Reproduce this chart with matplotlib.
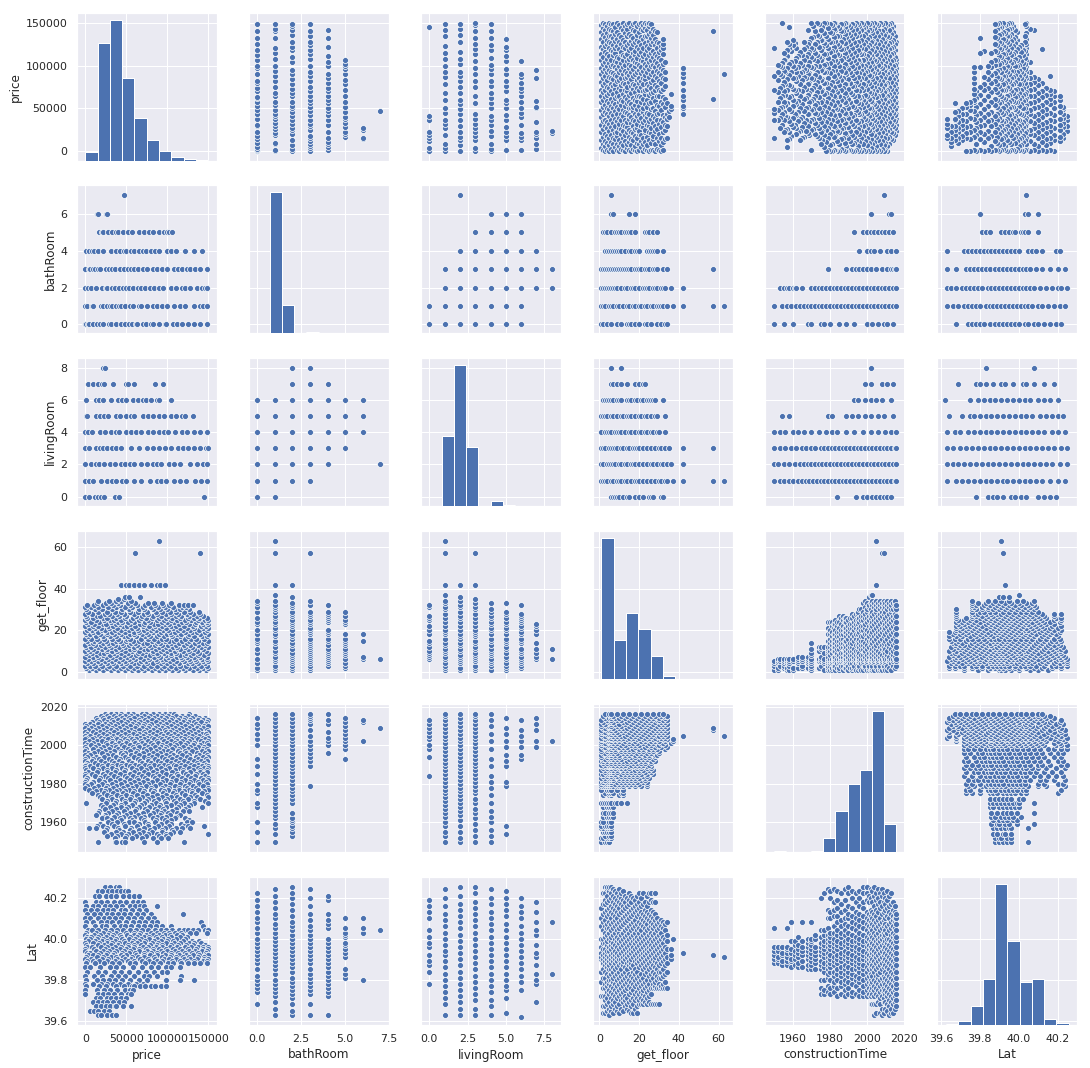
import matplotlib
matplotlib.use("Agg")
import matplotlib.pyplot as plt
import seaborn as sns

# histogram counts
price_edges = [0, 15, 30, 45, 60, 75, 90, 105, 120, 135, 150]
price_counts = [6400, 87000, 103700, 61000, 31400, 15800, 7400, 3000, 1500, 750]
bath_edges = [0, 0.7, 1.4, 2.1, 2.8, 3.5, 4.2, 4.9, 5.6, 6.3, 7]
bath_counts = [300, 250800, 49200, 0, 1800, 0, 0, 0, 0, 0]
living_edges = [0, 0.8, 1.6, 2.4, 3.2, 4, 4.8, 5.6, 6.4, 7.2, 8]
living_counts = [100, 124800, 252600, 105000, 100, 9600, 1800, 200, 0, 0]
floor_edges = [1, 7.2, 13.4, 19.6, 25.8, 32, 38.2, 44.4, 50.6, 56.8, 63]
floor_counts = [252600, 69000, 118800, 90000, 42000, 6000, 200, 0, 0, 10]
time_edges = [1950, 1956.6, 1963.2, 1969.8, 1976.4, 1983, 1989.6, 1996.2, 2002.8, 2009.4, 2016]
time_counts = [1200, 600, 600, 2400, 25800, 72600, 121200, 146400, 252600, 51000]
lat_edges = [39.627, 39.690, 39.753, 39.816, 39.879, 39.942, 40.005, 40.068, 40.131, 40.194, 40.257]
lat_counts = [1800, 7800, 33000, 81600, 250800, 150000, 76200, 81600, 11400, 4200]

# level -> prices (thousands)
price_by_bath = {
    0: [0, 1, 3, 5, 10, 14, 18, 22, 29, 31, 38, 44, 48, 53, 57, 62, 63, 70, 74, 80, 82, 90, 97, 99, 107, 112, 118, 125, 132, 140, 148],
    1: [0, 2, 8, 10, 19, 21, 26, 30, 33, 38, 41, 44, 48, 54, 58, 65, 68, 75, 82, 88, 94, 100, 108, 115, 121, 132, 140, 143, 149],
    2: [0, 3, 7, 13, 20, 25, 27, 32, 36, 41, 46, 50, 53, 58, 64, 68, 73, 79, 84, 90, 95, 104, 110, 118, 122, 128, 136, 142, 146, 149],
    3: [0, 4, 6, 9, 12, 16, 18, 25, 29, 32, 36, 42, 47, 52, 56, 60, 64, 70, 75, 82, 88, 93, 100, 108, 113, 118, 124, 128, 134, 140, 149],
    4: [1, 5, 8, 11, 16, 22, 31, 37, 42, 47, 50, 56, 60, 65, 70, 74, 80, 85, 90, 100, 104, 111, 122, 132, 142],
    5: [17, 20, 22, 28, 33, 38, 40, 46, 52, 57, 65, 72, 78, 83, 90, 96, 100, 102, 106],
    6: [14, 16, 25, 27],
    7: [47.5],
}
price_by_living = {
    0: [0, 4, 12, 15, 19, 23, 36, 41, 145],
    1: [0, 4, 9, 19, 27, 32, 37, 45, 50, 60, 68, 79, 87, 92, 99, 108, 115, 123, 134, 141, 149],
    2: [0, 7, 13, 17, 23, 30, 36, 43, 49, 55, 60, 68, 75, 82, 88, 92, 102, 108, 116, 128, 136, 143, 149],
    3: [0, 4, 13, 18, 22, 27, 32, 38, 43, 56, 65, 75, 82, 90, 97, 105, 113, 119, 125, 132, 140, 147, 150],
    4: [0, 3, 8, 18, 24, 31, 37, 41, 50, 56, 62, 68, 76, 82, 90, 96, 101, 109, 118, 124, 132, 140, 148],
    5: [1, 2, 13, 18, 23, 28, 37, 42, 50, 56, 60, 70, 76, 82, 90, 96, 105, 111, 118, 122, 131],
    6: [1, 13, 17, 21, 31, 40, 45, 50, 58, 64, 70, 74, 80, 87, 90, 105],
    7: [3, 9, 15, 20, 23, 34, 50, 52, 59, 85, 95],
    8: [21, 24],
}
living_by_bath = {
    0: [0, 1, 2, 3, 4, 5, 6],
    1: [0, 1, 2, 3, 4, 5, 6],
    2: [1, 2, 3, 4, 5, 6, 7, 8],
    3: [1, 2, 3, 4, 5, 6, 7, 8],
    4: [2, 3, 4, 5, 6, 7],
    5: [3, 4, 5, 6],
    6: [4, 5, 6],
    7: [2],
}
floor_by_bath = {
    0: [1, 2, 4, 6, 9, 11, 14, 15, 16, 18, 20, 23, 24, 26, 29, 31, 33, 34],
    1: [1, 2, 3, 5, 6, 7, 9, 10, 12, 14, 15, 17, 18, 20, 21, 23, 24, 26, 27, 29, 30, 31, 32, 34, 37, 42, 57, 63],
    2: [1, 2, 3, 4, 5, 6, 7, 8, 9, 11, 13, 14, 16, 17, 18, 20, 22, 23, 24, 25, 27, 28, 29, 31, 32, 33, 36, 42],
    3: [1, 2, 3, 4, 5, 6, 7, 8, 9, 10, 11, 12, 13, 14, 15, 16, 18, 19, 20, 21, 23, 24, 25, 27, 28, 29, 32, 34, 57],
    4: [3, 4, 5, 6, 7, 8, 9, 10, 11, 13, 15, 16, 18, 19, 20, 24, 25, 26, 27, 28, 29, 32],
    5: [2, 3, 4, 6, 8, 9, 10, 11, 13, 14, 15, 16, 18, 23, 24, 25, 27, 29],
    6: [6, 7, 15, 18],
    7: [6],
}
floor_by_living = {
    0: [6, 7, 8, 9, 10, 12, 14, 15, 18, 20, 22, 25, 26, 27, 31, 32],
    1: [1, 2, 3, 4, 6, 7, 9, 10, 11, 13, 14, 16, 18, 19, 20, 22, 24, 26, 28, 30, 31, 33, 34, 37, 42, 57, 63],
    2: [1, 2, 4, 5, 6, 7, 8, 10, 11, 13, 14, 16, 17, 18, 20, 22, 24, 26, 27, 29, 31, 32, 34, 36, 42],
    3: [1, 2, 3, 5, 6, 7, 8, 9, 11, 12, 14, 15, 17, 18, 19, 20, 22, 24, 26, 28, 30, 31, 33, 35, 42, 57],
    4: [1, 3, 4, 5, 6, 8, 9, 10, 11, 13, 15, 16, 18, 20, 21, 23, 24, 26, 27, 29, 30, 33],
    5: [1, 2, 3, 4, 6, 7, 9, 11, 12, 14, 15, 16, 18, 20, 21, 23, 24, 26, 28, 29, 33],
    6: [2, 3, 4, 5, 6, 7, 9, 10, 11, 14, 15, 16, 18, 19, 21, 22, 24, 25, 26, 27, 28, 32],
    7: [6, 7, 9, 11, 14, 18, 20, 22, 23],
    8: [6, 11],
}
time_by_bath = {
    0: [1950, 1955, 1960, 1968, 1970, 1975, 1977, 1980, 1985, 1989, 1993, 2000, 2003, 2006, 2009, 2011, 2014],
    1: [1950, 1954, 1957, 1959, 1962, 1964, 1966, 1968, 1970, 1972, 1974, 1976, 1978, 1980, 1982, 1984, 1986, 1988, 1990, 1992, 1994, 1996, 1998, 2000, 2002, 2004, 2006, 2008, 2010, 2012, 2014, 2016],
    2: [1953, 1955, 1957, 1958, 1960, 1961, 1962, 1965, 1970, 1972, 1974, 1976, 1978, 1980, 1982, 1984, 1986, 1988, 1990, 1992, 1994, 1996, 1998, 2000, 2002, 2004, 2006, 2008, 2010, 2012, 2014, 2016],
    3: [1979, 1989, 1992, 1994, 1996, 1998, 2000, 2002, 2005, 2008, 2011, 2013, 2014, 2015, 2016],
    4: [1996, 2000, 2002, 2004, 2007, 2011, 2013, 2016],
    5: [1993, 1998, 2000, 2002, 2004, 2006, 2008, 2010, 2012, 2014],
    6: [2002, 2012, 2013],
    7: [2009],
}
time_by_living = {
    0: [1984, 1994, 1998, 2000, 2003, 2005, 2007, 2009, 2011, 2013],
    1: [1950, 1953, 1955, 1958, 1960, 1963, 1965, 1967, 1969, 1971, 1973, 1975, 1977, 1979, 1981, 1983, 1985, 1987, 1989, 1991, 1993, 1995, 1997, 1999, 2001, 2003, 2005, 2007, 2009, 2011, 2013, 2015, 2016],
    2: [1950, 1952, 1955, 1958, 1961, 1964, 1966, 1968, 1970, 1972, 1974, 1976, 1978, 1980, 1982, 1984, 1986, 1988, 1990, 1992, 1994, 1996, 1998, 2000, 2002, 2004, 2006, 2008, 2010, 2012, 2014, 2016],
    3: [1950, 1953, 1956, 1959, 1962, 1965, 1967, 1970, 1972, 1975, 1977, 1979, 1981, 1983, 1985, 1987, 1989, 1991, 1993, 1995, 1997, 1999, 2001, 2003, 2005, 2007, 2009, 2011, 2013, 2015, 2016],
    4: [1950, 1953, 1956, 1960, 1963, 1966, 1970, 1974, 1978, 1981, 1984, 1989, 1993, 1998, 2002, 2006, 2010, 2013, 2016],
    5: [1954, 1958, 1979, 1981, 1989, 1992, 1995, 1999, 2002, 2006, 2009, 2014],
    6: [1993, 1995, 1999, 2002, 2005, 2008, 2013],
    7: [1999, 2002, 2008, 2011, 2014],
    8: [2002],
}
# latitudes written as hundredths above 39, so 125 means 40.25
lat_by_bath = {
    0: [68, 74, 76, 78, 80, 82, 85, 88, 90, 92, 94, 96, 98, 100, 103, 105, 108, 110, 113, 116, 119, 122],
    1: [63, 66, 69, 72, 74, 76, 78, 80, 83, 85, 87, 89, 91, 93, 95, 97, 99, 101, 103, 105, 107, 110, 112, 115, 118, 121, 124],
    2: [63, 65, 68, 71, 73, 75, 77, 79, 81, 84, 86, 88, 90, 92, 94, 96, 98, 100, 102, 104, 106, 108, 111, 114, 117, 120, 122, 125],
    3: [63, 68, 73, 75, 77, 79, 81, 83, 85, 88, 90, 92, 94, 96, 98, 100, 102, 104, 106, 109, 112, 116, 120, 124],
    4: [63, 72, 74, 76, 78, 80, 82, 84, 86, 88, 90, 92, 94, 96, 98, 100, 105, 107, 109, 112, 119, 121],
    5: [81, 83, 85, 91, 93, 95, 97, 98, 101, 102, 103, 105, 110],
    6: [80, 103, 105, 110],
    7: [104],
}
lat_by_living = {
    0: [78, 84, 87, 89, 92, 96, 98, 101, 104, 110, 113, 116, 119],
    1: [63, 68, 71, 74, 77, 80, 83, 86, 89, 92, 94, 97, 100, 103, 106, 109, 112, 116, 120, 124],
    2: [63, 66, 69, 72, 75, 78, 81, 84, 87, 90, 93, 96, 99, 102, 105, 108, 111, 114, 117, 121, 125],
    3: [63, 66, 70, 73, 76, 79, 82, 85, 88, 91, 94, 97, 100, 103, 106, 109, 112, 115, 118, 122, 125],
    4: [63, 67, 70, 74, 77, 80, 83, 86, 89, 92, 95, 98, 101, 104, 107, 110, 113, 117, 120, 124],
    5: [64, 71, 75, 77, 80, 83, 86, 89, 92, 95, 98, 101, 104, 107, 111, 114, 117, 120, 123],
    6: [62, 75, 79, 82, 85, 88, 91, 94, 97, 100, 103, 106, 110, 113, 116, 120],
    7: [69, 78, 80, 83, 87, 91, 93, 97, 102, 104, 108, 113, 118],
    8: [83, 108],
}
price_by_floor = {
    1: [4, 13, 22, 31, 40, 48, 57, 64, 72, 81, 90, 97, 106, 113, 122, 131, 139, 147],
    2: [1, 8, 17, 26, 35, 44, 52, 60, 69, 77, 85, 94, 102, 110, 119, 127, 136, 144, 150],
    3: [0, 6, 12, 20, 29, 37, 46, 54, 63, 71, 80, 88, 96, 104, 116, 123, 133, 141, 149],
    4: [2, 10, 18, 27, 34, 43, 50, 59, 66, 75, 83, 92, 100, 108, 114, 125, 130, 138, 146],
    5: [0, 7, 15, 24, 32, 41, 49, 56, 68, 74, 87, 95, 103, 111, 120, 128, 135, 143, 150],
    6: [3, 11, 19, 28, 36, 45, 53, 61, 70, 78, 86, 93, 99, 107, 118, 126, 134, 142, 148],
    7: [0, 9, 16, 25, 33, 42, 51, 58, 67, 76, 84, 91, 101, 112, 117, 124, 132, 140, 149],
    8: [5, 14, 21, 30, 38, 47, 55, 62, 73, 79, 89, 98, 105, 115, 121, 129, 137, 145],
    9: [1, 8, 18, 23, 35, 44, 52, 64, 69, 82, 88, 96, 104, 110, 123, 131, 139, 150],
    10: [0, 6, 13, 27, 32, 39, 49, 57, 65, 74, 83, 92, 100, 109, 119, 127, 136, 147],
    11: [3, 10, 20, 26, 37, 43, 54, 60, 71, 77, 86, 95, 103, 113, 116, 125, 133, 144],
    12: [1, 7, 16, 24, 31, 41, 48, 59, 67, 80, 90, 98, 107, 112, 122, 130, 141, 150],
    13: [0, 12, 19, 29, 36, 46, 53, 63, 72, 78, 85, 94, 101, 111, 120, 128, 138, 146],
    14: [4, 9, 22, 28, 34, 45, 56, 61, 70, 75, 87, 91, 105, 114, 124, 134, 143, 149],
    15: [2, 11, 17, 25, 38, 42, 50, 58, 66, 81, 89, 97, 102, 108, 118, 126, 137, 150],
    16: [0, 7, 14, 23, 33, 40, 51, 55, 68, 76, 84, 93, 99, 110, 121, 129, 135, 145],
    17: [3, 13, 21, 30, 37, 47, 52, 62, 73, 79, 88, 96, 106, 115, 125, 132, 142, 148],
    18: [1, 6, 18, 26, 35, 44, 54, 60, 69, 77, 90, 100, 104, 112, 117, 127, 140, 150],
    19: [0, 10, 15, 27, 32, 41, 49, 59, 65, 74, 83, 92, 103, 109, 122, 130, 136, 146],
    20: [2, 8, 20, 24, 36, 43, 53, 64, 71, 80, 86, 95, 101, 113, 119, 128, 139, 149],
    21: [5, 12, 19, 29, 39, 48, 57, 63, 75, 82, 91, 98, 107, 116, 124, 133, 143, 150],
    22: [0, 9, 16, 28, 34, 46, 51, 61, 70, 78, 85, 94, 105, 111, 120, 131, 141, 147],
    23: [3, 11, 22, 25, 37, 42, 55, 67, 72, 84, 89, 97, 102, 114, 126, 134, 144, 150],
    24: [1, 7, 17, 31, 40, 45, 52, 60, 73, 79, 93, 100, 108, 118, 123, 135, 142, 149],
    25: [0, 13, 23, 30, 35, 44, 56, 66, 76, 87, 96, 104, 112, 121, 129, 137, 146, 150],
    26: [2, 10, 21, 27, 38, 49, 58, 68, 74, 81, 90, 99, 106, 115, 125, 132, 139, 148],
    27: [1, 14, 18, 33, 41, 50, 62, 69, 83, 92, 101, 110, 117, 127, 136, 143],
    28: [0, 8, 24, 29, 39, 47, 59, 71, 77, 88, 98, 105, 113, 124, 131, 140],
    29: [3, 15, 26, 36, 43, 54, 64, 75, 86, 94, 103, 111, 120, 128, 139],
    30: [1, 12, 20, 32, 45, 53, 65, 72, 82, 91, 100, 109, 116, 126],
    31: [0, 7, 16, 28, 37, 48, 57, 70, 80, 89, 97, 107, 118, 123],
    32: [2, 11, 22, 34, 42, 55, 63, 73, 85, 95, 102, 114, 120, 125, 131],
    33: [14, 25, 31, 40, 52, 61, 76, 84, 93, 104],
    34: [15, 29, 38, 44, 56],
    35: [40, 47],
    36: [49, 53, 67],
    42: [43, 50, 53, 60, 65, 72, 80, 87, 91, 97],
    57: [61, 140],
    63: [90],
}
price_by_year = {
    2016: [24, 31, 38, 44, 52, 58, 69, 74, 83, 90, 97, 103, 108, 127],
    2015: [19, 27, 35, 42, 49, 56, 63, 71, 79, 87, 94, 101, 110, 118, 125, 134],
    2014: [13, 21, 29, 37, 45, 53, 60, 68, 76, 84, 92, 99, 106, 115, 122, 130, 139, 146],
    2013: [14, 23, 32, 40, 47, 55, 65, 73, 81, 89, 96, 105, 113, 120, 128, 137, 144, 150],
    2012: [8, 17, 26, 34, 43, 51, 59, 67, 75, 86, 93, 102, 111, 119, 126, 133, 141, 149],
    2011: [0, 6, 15, 24, 30, 39, 48, 57, 64, 72, 80, 91, 98, 107, 116, 124, 135, 147],
    2010: [1, 10, 20, 28, 36, 46, 54, 62, 70, 78, 88, 95, 104, 112, 121, 129, 138, 145, 150],
    2009: [0, 7, 16, 25, 33, 41, 50, 61, 69, 77, 85, 94, 100, 109, 117, 127, 136, 143],
    2008: [3, 12, 22, 31, 38, 47, 56, 66, 74, 82, 90, 97, 106, 114, 123, 131, 140, 148],
    2007: [0, 9, 18, 27, 35, 44, 52, 60, 71, 79, 87, 99, 103, 111, 119, 128, 137, 150],
    2006: [2, 13, 21, 29, 40, 49, 58, 65, 73, 83, 92, 101, 108, 116, 125, 134, 142, 147],
    2005: [0, 6, 17, 26, 34, 43, 53, 63, 70, 78, 86, 95, 105, 113, 121, 130, 139, 149],
    2004: [1, 11, 19, 30, 37, 46, 55, 67, 75, 81, 91, 98, 107, 117, 126, 135, 144, 150],
    2003: [0, 8, 23, 28, 39, 48, 57, 62, 72, 84, 93, 102, 110, 120, 129, 138, 146],
    2002: [4, 14, 20, 32, 42, 51, 59, 68, 76, 88, 96, 104, 112, 118, 127, 141, 150],
    2001: [0, 10, 25, 33, 41, 50, 61, 69, 80, 89, 100, 109, 115, 124, 133, 143, 148],
    2000: [2, 7, 16, 27, 36, 45, 54, 64, 73, 82, 94, 103, 111, 122, 131, 140, 150],
    1999: [0, 12, 22, 31, 38, 47, 58, 66, 77, 85, 92, 99, 108, 119, 128, 137, 145],
    1998: [1, 9, 18, 29, 40, 52, 60, 71, 79, 90, 97, 106, 114, 125, 134, 144, 149],
    1997: [0, 15, 24, 35, 44, 55, 63, 74, 86, 95, 101, 113, 121, 130, 142, 150],
    1996: [3, 11, 20, 30, 43, 49, 62, 70, 83, 91, 105, 116, 123, 136, 146],
    1995: [0, 6, 26, 34, 46, 56, 65, 78, 87, 98, 107, 118, 127, 139, 148],
    1994: [2, 13, 23, 37, 48, 59, 72, 81, 93, 103, 112, 124, 135, 143, 150],
    1993: [0, 10, 17, 29, 42, 52, 64, 76, 85, 97, 106, 116, 128, 137, 147],
    1992: [0, 8, 19, 32, 41, 53, 67, 76, 89, 100, 110, 120, 132, 141, 149],
    1991: [2, 12, 24, 35, 45, 57, 69, 80, 92, 104, 114, 125, 136, 145],
    1990: [1, 16, 28, 39, 50, 61, 73, 84, 96, 108, 117, 129, 138, 147],
    1989: [0, 6, 20, 33, 44, 55, 66, 78, 90, 101, 111, 122, 133, 142, 150],
    1988: [0, 10, 21, 33, 45, 57, 68, 79, 92, 102, 115, 126, 137, 145, 150],
    1987: [1, 15, 27, 38, 49, 62, 74, 86, 97, 109, 119, 131, 140, 149],
    1986: [3, 14, 26, 36, 47, 60, 71, 83, 94, 106, 119, 128, 140, 148],
    1985: [0, 8, 22, 31, 42, 54, 65, 77, 88, 99, 112, 123, 135, 144],
    1984: [0, 12, 24, 35, 49, 58, 69, 82, 90, 104, 113, 125, 134, 146],
    1983: [2, 18, 28, 40, 51, 63, 73, 85, 95, 107, 118, 129, 141, 150],
    1982: [1, 17, 30, 42, 54, 64, 75, 88, 99, 111, 122, 133, 143, 150],
    1981: [0, 9, 23, 36, 47, 59, 70, 81, 94, 105, 117, 128, 138, 147],
    1980: [0, 7, 20, 32, 44, 55, 66, 77, 91, 103, 116, 127, 139, 149],
    1979: [2, 15, 27, 38, 51, 62, 74, 85, 97, 109, 121, 131, 144],
    1978: [0, 11, 25, 34, 46, 57, 68, 80, 93, 102, 114, 124, 135, 150],
    1977: [5, 19, 29, 41, 53, 67, 80, 92, 101, 114, 126, 138, 150],
    1976: [13, 24, 37, 48, 60, 72, 84, 96, 108, 120, 130, 145],
    1975: [8, 23, 34, 46, 58, 70, 83, 95, 107, 118, 130, 142],
    1974: [15, 27, 39, 50, 63, 75, 87, 99, 110, 122, 134, 148],
    1973: [18, 31, 43, 56, 69, 81, 93, 105, 112, 128, 136, 150],
    1972: [20, 33, 45, 54, 65, 77, 89, 100, 115, 125, 140],
    1971: [26, 38, 49, 61, 74, 84, 97, 108, 119, 133, 146],
    1970: [1, 25, 36, 48, 59, 72, 86, 98, 110, 120, 132, 150],
    1969: [19, 34, 43, 57, 68, 80, 91, 104, 116, 128],
    1968: [21, 30, 44, 52, 66, 78, 90, 99, 113, 125, 142],
    1967: [24, 37, 50, 62, 73, 85, 95, 110, 122],
    1966: [17, 33, 47, 61, 75, 87, 96, 106, 119, 127],
    1965: [15, 28, 40, 55, 70, 83, 92, 101, 112],
    1964: [13, 24, 38, 50, 64, 79, 91, 103, 116],
    1963: [22, 35, 46, 59, 71, 88, 98, 111],
    1962: [20, 27, 42, 55, 68, 82, 93, 109, 121],
    1961: [31, 44, 57, 72, 86, 97, 105, 126],
    1960: [28, 39, 53, 60, 73, 85, 100, 124, 130],
    1959: [18, 32, 47, 65, 76, 92, 104, 117],
    1958: [14, 22, 35, 49, 63, 77, 89, 102, 120, 125, 145],
    1957: [5, 13, 26, 40, 56, 71, 84, 97, 111, 118, 128],
    1956: [25, 41, 54, 66, 79, 93, 106],
    1955: [23, 37, 46, 58, 70, 81, 94, 107, 115],
    1954: [31, 44, 52, 65, 76, 88, 98, 103, 150],
    1953: [27, 39, 50, 62, 74, 90, 99],
    1952: [36, 48, 57, 69, 83, 92, 101],
    1950: [16, 36, 37, 45, 49, 72, 88, 120],
}
price_by_lat = {
    125: [24, 30, 37, 41],
    123: [15, 20, 28, 33, 39, 44, 49, 52],
    121: [12, 17, 25, 31, 38, 46, 53, 60, 65],
    118: [0, 13, 19, 27, 35, 42, 50, 58, 64, 70],
    116: [1, 10, 16, 24, 30, 37, 45, 55, 61, 67, 72, 88],
    114: [0, 7, 14, 21, 28, 34, 43, 49, 57, 66, 74],
    112: [2, 11, 18, 26, 32, 40, 47, 54, 63, 70, 80, 119],
    110: [0, 6, 15, 23, 29, 36, 44, 52, 60, 68, 77, 84],
    108: [1, 9, 19, 27, 33, 41, 50, 58, 65, 73, 81, 87, 141],
    106: [0, 12, 20, 25, 35, 43, 48, 56, 64, 71, 79, 86, 93, 104, 143],
    104: [3, 8, 16, 24, 31, 39, 46, 54, 62, 69, 76, 85, 92, 98, 106, 114, 120, 125, 131, 138, 146, 150],
    103: [1, 13, 21, 29, 37, 50, 60, 67, 80, 88, 96, 102, 109, 117, 128, 135, 148],
    102: [0, 11, 18, 28, 34, 42, 51, 59, 66, 74, 83, 90, 97, 103, 112, 118],
    101: [2, 7, 16, 25, 32, 44, 55, 63, 71, 78, 86, 93, 105, 116, 124],
    100: [1, 6, 14, 22, 30, 37, 45, 53, 61, 68, 78, 88, 95, 101, 110, 122],
    99: [3, 12, 20, 27, 36, 47, 58, 65, 73, 84, 92, 100, 107, 119, 130, 139],
    98: [0, 10, 17, 26, 33, 41, 49, 57, 63, 72, 81, 89, 99, 108, 116, 126, 133, 141],
    97: [1, 15, 23, 31, 40, 52, 59, 68, 79, 87, 94, 104, 113, 123, 131, 146],
    96: [2, 8, 19, 27, 36, 44, 52, 60, 70, 77, 86, 94, 103, 112, 121, 129, 137, 144, 150],
    95: [0, 11, 24, 33, 42, 50, 58, 66, 74, 82, 90, 98, 107, 116, 125, 135, 143, 150],
    94: [0, 13, 21, 29, 38, 47, 55, 65, 75, 83, 92, 100, 109, 118, 127, 134, 142, 149],
    93: [2, 6, 18, 26, 35, 45, 53, 61, 71, 80, 88, 95, 104, 113, 122, 130, 138, 147],
    92: [3, 9, 16, 25, 34, 43, 50, 62, 71, 79, 88, 97, 105, 114, 123, 131, 139, 147, 150],
    91: [1, 14, 22, 31, 37, 46, 57, 64, 72, 84, 93, 103, 110, 119, 126, 137, 145],
    90: [0, 7, 20, 28, 39, 48, 56, 67, 76, 85, 96, 102, 111, 120, 128, 136, 145, 150],
    89: [2, 10, 17, 26, 36, 44, 52, 60, 69, 78, 87, 94, 106, 116, 124, 132, 143, 149],
    88: [1, 12, 23, 32, 41, 54, 61, 73, 82, 91, 101, 107, 117, 125, 133, 140, 148],
    86: [0, 6, 18, 30, 37, 46, 58, 69, 80, 89, 98, 104, 115],
    84: [2, 15, 24, 35, 44, 53, 64, 74, 84, 93, 100],
    82: [0, 11, 20, 31, 40, 49, 60, 71, 78, 87, 117],
    80: [1, 14, 22, 29, 36, 45, 55, 66, 75, 98, 115, 132],
    78: [0, 9, 19, 27, 34, 42, 52, 62, 70],
    77: [1, 17, 25, 38, 47, 57, 60, 67, 73, 80, 85, 92, 98],
    75: [0, 14, 23, 30, 39, 48, 54, 58],
    73: [0, 16, 21, 28, 35, 44, 52, 56],
    71: [13, 18, 26, 31, 37, 43, 50],
    69: [10, 15, 22, 27, 34, 41, 47],
    67: [13, 19, 25, 30, 36, 38, 46, 56],
    65: [6, 11, 16, 23, 29],
    63: [15, 19, 27, 32, 38],
}
floor_by_year = {
    1950: [1, 3, 4, 5],
    1952: [1, 2, 4, 5, 6],
    1953: [3, 5, 6],
    1955: [2, 3, 4, 5, 6],
    1957: [1, 2, 4, 5, 6],
    1958: [1, 3, 4, 5, 6],
    1960: [1, 2, 5, 6],
    1963: [2, 4, 5, 6, 7],
    1965: [2, 3, 5, 6, 7],
    1968: [2, 4, 5, 6, 7],
    1970: [1, 2, 3, 4, 5, 6, 8, 9, 11, 14],
    1974: [2, 5, 6, 10, 12],
    1975: [3, 5, 6, 7, 11, 12],
    1977: [1, 4, 5, 6, 9, 12],
    1979: [1, 2, 3, 4, 5, 6, 7, 9, 10, 11, 12, 15, 18, 21, 24],
    1980: [1, 3, 4, 5, 6, 8, 10, 12, 14, 16, 18, 20, 24],
    1981: [1, 2, 4, 5, 6, 9, 11, 13, 15, 17, 19, 22, 24],
    1982: [2, 3, 5, 6, 7, 10, 12, 14, 16, 18, 21, 23],
    1983: [1, 3, 5, 6, 7, 10, 12, 14, 16, 18, 20, 23, 25],
    1984: [2, 4, 6, 8, 9, 11, 13, 15, 17, 19, 22, 24],
    1985: [1, 2, 4, 5, 6, 8, 11, 13, 15, 17, 19, 21, 24, 27],
    1986: [3, 5, 6, 7, 9, 12, 14, 16, 18, 20, 23, 26],
    1987: [1, 3, 5, 6, 7, 9, 12, 14, 16, 18, 20, 22, 25, 27],
    1988: [2, 4, 6, 8, 10, 11, 13, 15, 19, 21, 24, 26],
    1989: [2, 4, 5, 6, 8, 10, 12, 15, 17, 19, 21, 24, 26],
    1990: [1, 3, 5, 6, 7, 9, 11, 13, 16, 18, 20, 22, 25],
    1991: [2, 4, 6, 8, 10, 12, 14, 17, 19, 21, 23, 26],
    1992: [1, 2, 4, 6, 8, 10, 12, 14, 16, 18, 21, 23, 26, 28],
    1993: [2, 3, 5, 6, 7, 9, 11, 15, 17, 20, 22, 24, 27],
    1994: [1, 4, 6, 8, 10, 13, 16, 18, 21, 23, 25, 28],
    1995: [1, 4, 5, 6, 8, 10, 13, 15, 18, 20, 23, 25, 28, 29],
    1996: [2, 3, 5, 6, 7, 9, 12, 14, 16, 19, 21, 24, 26, 30],
    1997: [1, 4, 6, 8, 11, 13, 15, 17, 20, 22, 25, 27, 30],
    1998: [1, 4, 5, 6, 8, 11, 13, 15, 17, 20, 22, 25, 27, 29, 33],
    1999: [2, 3, 6, 7, 9, 10, 12, 14, 18, 21, 23, 26, 28, 31, 34],
    2000: [1, 4, 5, 6, 8, 11, 13, 16, 18, 20, 24, 26, 29, 30, 33],
    2001: [1, 2, 3, 6, 7, 9, 12, 15, 17, 19, 22, 25, 27, 31, 32, 36],
    2002: [1, 4, 5, 6, 8, 10, 13, 15, 18, 21, 23, 26, 28, 30, 33, 37],
    2003: [1, 2, 3, 6, 7, 9, 11, 14, 16, 19, 22, 24, 27, 29, 32, 34, 37],
    2004: [1, 4, 5, 6, 8, 10, 12, 15, 17, 20, 23, 25, 28, 31, 33],
    2005: [2, 3, 6, 7, 9, 11, 13, 16, 18, 21, 24, 26, 29, 30, 32, 34, 42, 63],
    2006: [1, 4, 5, 6, 8, 10, 14, 17, 19, 22, 25, 27, 31, 33],
    2007: [1, 2, 3, 6, 7, 9, 12, 15, 18, 20, 23, 26, 28, 30, 32, 34],
    2008: [1, 4, 5, 6, 8, 11, 13, 16, 19, 21, 24, 27, 29, 31, 33, 57],
    2009: [2, 3, 6, 7, 10, 12, 14, 17, 20, 22, 25, 28, 30, 32, 34, 57],
    2010: [1, 4, 5, 6, 9, 11, 15, 18, 21, 23, 26, 29, 31, 33],
    2011: [1, 3, 6, 8, 10, 13, 16, 19, 22, 24, 27, 30, 32, 34],
    2012: [2, 5, 6, 7, 12, 14, 17, 20, 23, 25, 28, 31, 33],
    2013: [1, 4, 6, 9, 11, 15, 18, 21, 24, 26, 29, 30, 32, 34],
    2014: [3, 5, 6, 8, 10, 13, 16, 19, 22, 25, 27, 30, 33],
    2015: [2, 6, 7, 11, 14, 17, 20, 23, 26, 28, 31, 33, 34],
    2016: [3, 5, 6, 9, 12, 15, 18, 21, 24, 27, 30, 32],
}
lat_by_floor = {
    1: [72, 79, 84, 90, 91, 93, 96, 100, 106, 110, 115],
    2: [64, 67, 72, 76, 81, 85, 88, 90, 92, 95, 98, 100, 104, 108, 112, 117, 122],
    3: [64, 67, 70, 72, 76, 78, 81, 84, 87, 89, 91, 93, 95, 98, 101, 103, 106, 109, 113, 117, 119, 122, 125],
    4: [65, 68, 71, 74, 77, 79, 83, 86, 88, 90, 92, 94, 97, 99, 102, 105, 107, 111, 114, 118, 121, 124, 125],
    5: [63, 66, 69, 73, 75, 78, 80, 82, 85, 87, 89, 91, 94, 96, 100, 103, 105, 108, 112, 115, 119, 123, 125],
    6: [65, 67, 71, 74, 77, 80, 83, 85, 88, 90, 92, 95, 97, 99, 101, 104, 107, 110, 113, 116, 120, 122, 125],
    7: [64, 68, 70, 73, 76, 79, 81, 84, 86, 89, 91, 93, 96, 98, 102, 105, 108, 112, 115, 118, 121, 124],
    8: [66, 69, 72, 75, 78, 82, 85, 88, 90, 92, 94, 97, 100, 103, 106, 109, 111, 114, 117, 120, 123],
    9: [65, 67, 71, 74, 77, 80, 83, 86, 89, 91, 93, 96, 99, 101, 104, 107, 110, 113, 116, 119, 122],
    10: [64, 68, 72, 75, 78, 81, 84, 87, 90, 92, 95, 98, 100, 103, 105, 108, 112, 115, 118, 121, 124],
    11: [66, 70, 73, 76, 79, 82, 85, 88, 90, 93, 96, 99, 102, 106, 109, 113, 117, 120, 122],
    12: [65, 69, 71, 74, 77, 80, 83, 87, 89, 91, 94, 97, 100, 103, 107, 110, 114, 116, 119, 123],
    13: [67, 70, 72, 75, 78, 81, 84, 86, 90, 92, 95, 98, 101, 104, 108, 111, 115, 118, 121],
    14: [66, 68, 71, 76, 79, 82, 85, 88, 91, 93, 96, 99, 102, 105, 109, 112, 116, 120],
    15: [65, 69, 73, 77, 80, 83, 87, 89, 92, 94, 97, 100, 103, 106, 110, 113, 117, 119, 122],
    16: [64, 67, 70, 74, 76, 79, 82, 86, 88, 90, 93, 95, 98, 101, 104, 107, 111, 114, 118, 121],
    17: [64, 68, 71, 75, 78, 81, 84, 87, 91, 94, 96, 99, 102, 105, 108, 112, 115, 120],
    18: [66, 70, 73, 77, 80, 83, 85, 89, 92, 95, 98, 100, 103, 106, 109, 113, 116, 119],
    19: [64, 67, 71, 74, 78, 81, 84, 88, 90, 93, 96, 99, 101, 104, 107, 111, 114, 117, 121],
    20: [68, 70, 73, 76, 79, 82, 86, 89, 91, 94, 97, 100, 103, 105, 108, 112, 115, 118, 122],
    21: [68, 71, 74, 77, 80, 83, 87, 90, 92, 95, 98, 101, 104, 107, 110, 113, 116, 120],
    22: [68, 70, 73, 75, 78, 81, 85, 88, 91, 93, 96, 99, 102, 106, 109, 112, 117, 122],
    23: [69, 72, 76, 79, 83, 86, 89, 92, 94, 97, 100, 103, 105, 108, 111, 114, 118],
    24: [68, 71, 74, 77, 80, 84, 87, 90, 93, 95, 98, 101, 104, 107, 110, 113, 116, 121],
    25: [69, 72, 75, 78, 82, 85, 88, 91, 94, 96, 99, 102, 105, 109, 112, 118, 122],
    26: [68, 73, 76, 80, 83, 86, 89, 92, 95, 97, 100, 103, 106, 108, 111, 114, 119, 122],
    27: [68, 76, 78, 81, 84, 87, 90, 93, 96, 99, 102, 105, 107, 110, 113, 118],
    28: [68, 76, 77, 79, 83, 86, 89, 91, 94, 97, 100, 103, 106, 109, 112, 118, 122],
    29: [68, 76, 80, 82, 85, 88, 92, 95, 98, 101, 104, 107, 110],
    30: [68, 76, 78, 81, 84, 87, 90, 93, 96, 99, 102, 105, 108],
    31: [76, 77, 81, 84, 88, 91, 94, 97, 100, 103, 106, 109],
    32: [76, 78, 82, 85, 89, 92, 95, 98, 101, 105, 108],
    33: [76, 79, 83, 87, 90, 93, 96, 100, 104, 107],
    34: [76, 84, 88, 91, 95, 99, 102, 108],
    36: [90, 92, 95],
    37: [100],
    42: [93],
    57: [92],
    63: [91],
}
lat_by_year = {
    1950: [88, 90, 92, 94, 96, 105],
    1952: [88, 90, 91, 94, 96],
    1954: [87, 89, 92, 93, 96],
    1957: [87, 89, 91, 93, 95, 96, 105],
    1959: [86, 89, 90, 93, 95, 99, 108],
    1961: [87, 90, 92, 94, 97, 99],
    1963: [86, 88, 91, 93, 95, 97, 101],
    1965: [86, 89, 92, 94, 96, 99, 108],
    1968: [85, 87, 90, 92, 94, 96, 98, 100],
    1970: [85, 87, 89, 91, 93, 95, 97, 99, 100, 108],
    1972: [85, 88, 90, 92, 94, 96, 100, 102],
    1975: [73, 76, 80, 85, 87, 89, 92, 94, 96, 98, 101, 104, 120],
    1977: [73, 75, 80, 84, 86, 88, 91, 93, 95, 97, 99, 102, 104, 122],
    1979: [74, 77, 81, 83, 85, 87, 89, 91, 93, 96, 98, 100, 102, 105, 110, 114, 124],
    1980: [73, 76, 80, 84, 86, 88, 90, 92, 95, 97, 99, 101, 103, 110, 113, 120, 123],
    1982: [74, 77, 79, 82, 84, 87, 89, 91, 94, 96, 98, 100, 103, 106, 111, 114, 118, 124],
    1984: [72, 76, 80, 83, 85, 88, 90, 92, 95, 97, 99, 102, 104, 108, 111, 115, 119, 123],
    1986: [73, 77, 79, 82, 84, 86, 89, 91, 93, 96, 98, 101, 103, 106, 109, 113, 117, 122],
    1988: [72, 75, 78, 80, 83, 85, 87, 90, 92, 94, 97, 99, 102, 104, 107, 110, 114, 119, 124],
    1990: [73, 76, 79, 82, 84, 86, 89, 91, 93, 96, 98, 100, 103, 106, 110, 112, 116, 122, 125],
    1992: [72, 74, 78, 81, 83, 85, 88, 90, 92, 95, 97, 99, 102, 105, 108, 111, 115, 120, 123],
    1994: [73, 77, 80, 82, 85, 87, 89, 91, 94, 96, 99, 101, 104, 107, 110, 113, 118, 122],
    1996: [72, 75, 79, 81, 84, 86, 88, 90, 93, 95, 98, 100, 103, 106, 109, 112, 116, 120, 123],
    1998: [72, 74, 77, 80, 83, 85, 87, 90, 92, 94, 97, 99, 102, 105, 108, 111, 115, 118, 122, 125],
    2000: [72, 75, 78, 81, 84, 86, 89, 91, 93, 96, 99, 101, 104, 107, 110, 113, 119, 122, 125],
    2001: [73, 76, 79, 82, 85, 88, 90, 92, 95, 97, 100, 103, 106, 109, 112, 118, 121],
    2002: [68, 72, 75, 78, 80, 83, 86, 89, 91, 94, 96, 99, 102, 105, 108, 111, 114, 120, 124],
    2003: [68, 73, 76, 79, 82, 85, 87, 90, 93, 95, 98, 101, 104, 107, 110, 113, 118, 123],
    2004: [63, 68, 72, 75, 77, 80, 84, 86, 89, 92, 94, 97, 100, 103, 106, 109, 112, 116, 121, 125],
    2005: [64, 68, 73, 76, 79, 82, 85, 88, 91, 93, 96, 99, 102, 105, 108, 111, 114, 119, 122],
    2006: [69, 72, 75, 78, 81, 83, 86, 89, 92, 95, 98, 100, 103, 106, 109, 113, 117, 120, 124],
    2007: [64, 68, 71, 74, 77, 80, 84, 87, 90, 93, 96, 99, 101, 104, 107, 110, 115, 118, 122],
    2008: [63, 66, 72, 75, 78, 81, 85, 88, 91, 94, 97, 100, 102, 105, 108, 112, 116, 121, 124],
    2009: [64, 69, 71, 74, 76, 79, 82, 86, 89, 92, 95, 98, 101, 103, 106, 109, 113, 118, 122],
    2010: [66, 69, 73, 75, 78, 81, 84, 87, 90, 93, 96, 99, 102, 104, 107, 110, 114, 117, 120],
    2011: [65, 68, 72, 74, 77, 80, 83, 86, 89, 92, 95, 98, 100, 103, 106, 111, 115, 119, 123],
    2012: [63, 67, 70, 73, 76, 79, 82, 85, 88, 91, 94, 97, 100, 104, 107, 110, 113, 116, 121],
    2013: [64, 66, 69, 72, 75, 78, 81, 84, 87, 90, 93, 96, 99, 102, 105, 108, 112, 117, 122],
    2014: [64, 68, 71, 74, 77, 80, 83, 86, 89, 92, 95, 98, 101, 103, 106, 109, 111, 114, 118],
    2015: [66, 69, 72, 75, 79, 82, 85, 88, 91, 94, 97, 100, 102, 105, 108, 110, 113, 116],
    2016: [67, 70, 73, 76, 78, 81, 84, 87, 90, 93, 96, 99, 101, 104, 107, 110, 112],
}

names = ["price", "bathRoom", "livingRoom", "get_floor", "constructionTime", "Lat"]
# axis ranges and ticks for each variable
xlims = [(-10100, 160600), (-0.47, 7.5), (-0.54, 8.6), (-3.2, 67.3), (1945, 2020.6), (39.58, 40.30)]
ylims = [(-11300, 161300), (-0.47, 7.57), (-0.59, 8.64), (-3.5, 67.8), (1944.6, 2021.4), (39.58, 40.30)]
xticks = [[0, 50000, 100000, 150000], [0, 2.5, 5, 7.5], [0, 2.5, 5, 7.5], [0, 20, 40, 60], [1960, 1980, 2000, 2020], [39.6, 39.8, 40.0, 40.2]]
xticklabels = [["0", "50000", "100000", "150000"], ["0.0", "2.5", "5.0", "7.5"], ["0.0", "2.5", "5.0", "7.5"], ["0", "20", "40", "60"], ["1960", "1980", "2000", "2020"], ["39.6", "39.8", "40.0", "40.2"]]
yticks = [[0, 50000, 100000, 150000], [0, 2, 4, 6], [0, 2, 4, 6, 8], [0, 20, 40, 60], [1960, 1980, 2000, 2020], [39.6, 39.8, 40.0, 40.2]]
yticklabels = [["0", "50000", "100000", "150000"], ["0", "2", "4", "6"], ["0", "2", "4", "6", "8"], ["0", "20", "40", "60"], ["1960", "1980", "2000", "2020"], ["39.6", "39.8", "40.0", "40.2"]]


def to_price(v):
    return v * 1000


def to_lat(v):
    return 39 + v / 100


def same(v):
    return v


# (level var, value var, table, value conversion, level conversion)
pairs = [
    (1, 0, price_by_bath, to_price, same),
    (2, 0, price_by_living, to_price, same),
    (1, 2, living_by_bath, same, same),
    (1, 3, floor_by_bath, same, same),
    (2, 3, floor_by_living, same, same),
    (1, 4, time_by_bath, same, same),
    (2, 4, time_by_living, same, same),
    (1, 5, lat_by_bath, to_lat, same),
    (2, 5, lat_by_living, to_lat, same),
    (3, 0, price_by_floor, to_price, same),
    (4, 0, price_by_year, to_price, same),
    (5, 0, price_by_lat, to_price, to_lat),
    (4, 3, floor_by_year, same, same),
    (3, 5, lat_by_floor, to_lat, same),
    (4, 5, lat_by_year, to_lat, same),
]
hists = [
    (price_edges, price_counts), (bath_edges, bath_counts), (living_edges, living_counts),
    (floor_edges, floor_counts), (time_edges, time_counts), (lat_edges, lat_counts),
]

sns.set()
blue = "#4C72B0"
W, H = 1090, 1068
fig = plt.figure(figsize=(W / 72, H / 72), dpi=72)
lefts = [77, 249, 421, 593, 765, 937]
tops = [13, 185, 358, 531, 704, 877]

axes = {}
for r in range(6):
    for c in range(6):
        ax = fig.add_axes([lefts[c] / W, 1 - (tops[r] + 148) / H, 140 / W, 148 / H])
        ax.set_xlim(*xlims[c])
        ax.set_ylim(*ylims[r])
        ax.set_xticks(xticks[c])
        ax.set_yticks(yticks[r])
        if r == 5:
            ax.set_xticklabels(xticklabels[c])
            ax.set_xlabel(names[c], fontsize=12)
        else:
            ax.set_xticklabels([])
        if c == 0:
            ax.set_yticklabels(yticklabels[r])
            ax.set_ylabel(names[r], fontsize=12)
        else:
            ax.set_yticklabels([])
        ax.tick_params(labelsize=11, length=0, pad=9.5)
        axes[r, c] = ax

for level_var, value_var, table, conv_value, conv_level in pairs:
    levels = []
    values = []
    for level, vals in table.items():
        for v in vals:
            levels.append(conv_level(level))
            values.append(conv_value(v))
    # same points on both sides of the diagonal
    axes[value_var, level_var].scatter(levels, values, s=36, color=blue, edgecolor="w", linewidth=0.75)
    axes[level_var, value_var].scatter(values, levels, s=36, color=blue, edgecolor="w", linewidth=0.75)

for i, (edges, counts) in enumerate(hists):
    ax = axes[i, i]
    twin = ax.twinx()
    scale = 1000 if i == 0 else 1
    left = [e * scale for e in edges[:-1]]
    width = [(edges[k + 1] - edges[k]) * scale for k in range(len(counts))]
    twin.bar(left, counts, width=width, align="edge", color=blue, edgecolor="w", linewidth=1)
    twin.set_ylim(0, max(counts) * 1.05)
    twin.set_xlim(ax.get_xlim())
    twin.axis("off")

fig.savefig("out.png", dpi=72)
